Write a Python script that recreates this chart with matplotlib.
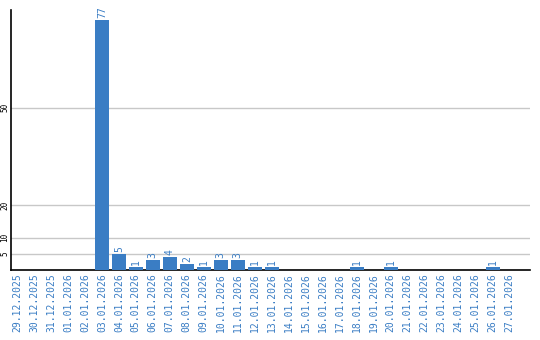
import matplotlib
matplotlib.use('Agg')
import matplotlib.pyplot as plt
import numpy as np

dates = ['29.12.2025', '30.12.2025', '31.12.2025', '01.01.2026', '02.01.2026',
         '03.01.2026', '04.01.2026', '05.01.2026', '06.01.2026', '07.01.2026',
         '08.01.2026', '09.01.2026', '10.01.2026', '11.01.2026', '12.01.2026',
         '13.01.2026', '14.01.2026', '15.01.2026', '16.01.2026', '17.01.2026',
         '18.01.2026', '19.01.2026', '20.01.2026', '21.01.2026', '22.01.2026',
         '23.01.2026', '24.01.2026', '25.01.2026', '26.01.2026', '27.01.2026']
counts = [0, 0, 0, 0, 0, 77, 5, 1, 3, 4, 2, 1, 3, 3, 1, 1,
          0, 0, 0, 0, 1, 0, 1, 0, 0, 0, 0, 0, 1, 0]
yticks = [5, 10, 20, 50]

blue = '#3a7dc4'
font = 'DejaVu Sans Mono'

fig = plt.figure(figsize=(5.4, 3.4), dpi=100)
ax = fig.add_axes([11 / 540, 70 / 340, 519 / 540, 260 / 340])

x = np.arange(len(dates))
ax.bar(x, counts, width=0.82, color=blue, zorder=3)

for xi, c in zip(x, counts):
    if c > 0:
        ax.text(xi, c + 0.6, str(c), rotation=90, ha='center', va='bottom',
                color=blue, fontsize=7, family=font)

ax.set_xlim(-0.35, 30.2)
ax.set_ylim(0, 80)
ax.set_yticks(yticks)
ax.set_yticklabels([str(t) for t in yticks], rotation=90, va='center',
                   fontsize=5.5, family=font)
ax.set_xticks(x)
ax.set_xticklabels(dates, rotation=90, color=blue, fontsize=7, family=font)
ax.tick_params(axis='x', length=0, pad=2)
ax.tick_params(axis='y', length=0, pad=1)
ax.grid(axis='y', color='#c8c8c8', linewidth=1, zorder=0)

for s in ['top', 'right']:
    ax.spines[s].set_visible(False)
ax.spines['left'].set_linewidth(1.2)
ax.spines['bottom'].set_linewidth(1.2)

fig.savefig('out.png', dpi=100)
